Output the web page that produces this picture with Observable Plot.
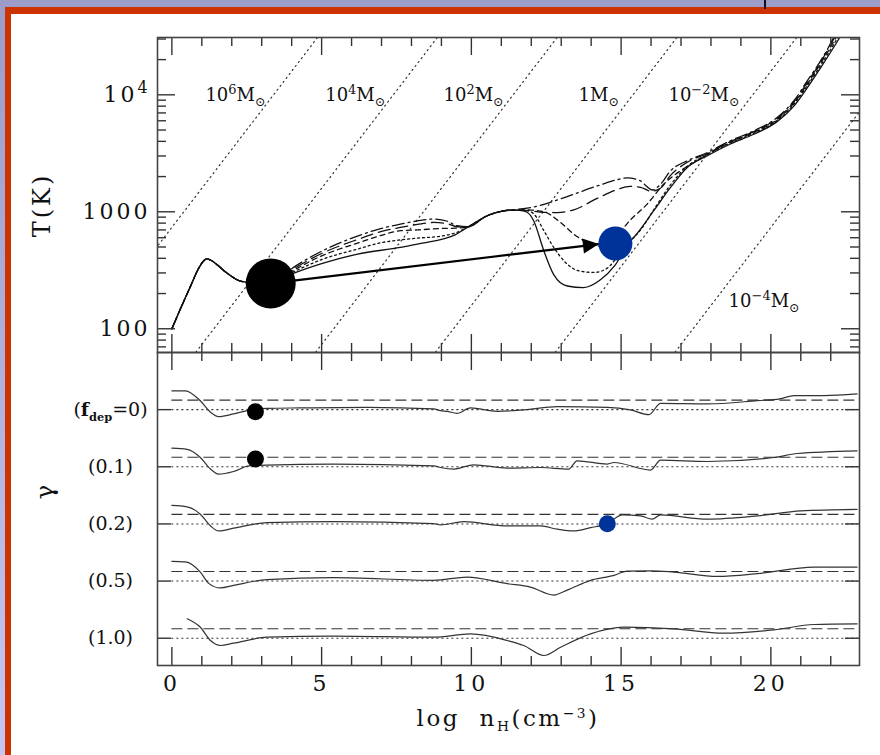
<!DOCTYPE html>
<html><head><meta charset="utf-8">
<script src="https://cdn.jsdelivr.net/npm/d3@7"></script>
<script src="https://cdn.jsdelivr.net/npm/@observablehq/plot@0.6"></script>
<style>
html,body{margin:0;padding:0;}
body{width:880px;height:755px;position:relative;overflow:hidden;background:linear-gradient(#9c9cc8,#c6c6f2);font-family:"DejaVu Serif",serif;color:#111;}
.abs{position:absolute;}
#red{left:5px;top:7px;right:0;bottom:0;background:#cc3300;}
#white{left:11px;top:14px;right:0;bottom:0;background:#fff;}
#mark{left:764px;top:0;width:2px;height:9px;background:#111;}
.lab{position:absolute;font-size:22px;white-space:nowrap;line-height:1;}
.lab sub{font-size:0.6em;vertical-align:-0.35em;}
.lab sup{font-size:0.6em;vertical-align:0.55em;}
</style></head>
<body>
<div class="abs" id="red"></div><div class="abs" id="white"></div><div class="abs" id="mark"></div>
<div class="abs" id="topPlot" style="left:0;top:0"></div>
<div class="abs" id="botPlot" style="left:0;top:352px"></div>
<div class="lab" style="left:42px;top:205px;font-size:24px;letter-spacing:3px;transform:translate(-50%,-50%) rotate(-90deg)">T(K)</div>
<div class="lab" style="left:45px;top:492px;font-size:24px;transform:translate(-50%,-50%) rotate(-90deg)">γ</div>
<div class="lab" style="left:508px;top:720px;font-size:23px;transform:translate(-50%,-50%);letter-spacing:2.5px">log&nbsp; n<sub>H</sub>(cm<sup>−3</sup>)</div>
<script>
// ---------- data ----------
const xMajor = [0, 5, 10, 15, 20];
const xMinor = [1,2,3,4,6,7,8,9,11,12,13,14,16,17,18,19,21,22];
const tMajor = [100, 1000, 10000];
const tMajorLabels = ["100", "1000", "10^4"];
const tMinor = [70,80,90,200,300,400,500,600,700,800,900,2000,3000,4000,5000,6000,7000,8000,9000,20000,30000];

const series = ["0", "0.1", "0.2", "0.5", "1.0"];
// common early evolution (log nH, T)
const tempStart = [[0,100],[0.3,151],[0.6,224],[0.9,331],[1.05,378],[1.16,395],[1.3,385],[1.5,355],[1.74,313],[2.0,280],[2.19,261],[2.52,249],[2.9,245]];
const tempF0 = [[3.3,244],[4.1,300],[5.0,360],[6.2,435],[7.63,496],[8.2,530],[9.0,580],[9.4,625],[9.86,735],[10.53,925],[11.0,1010],[11.3,1033],[11.6,1030],[11.86,990],[12.08,838],[12.42,464],[12.75,290],[13.2,232],[13.75,225],[14.31,262],[14.8,350],[15.3,560],[15.42,603],[16.09,1021],[16.65,1614],[17.21,2393],[17.88,3013],[18.65,3800],[19.43,4600],[20.21,5900],[20.77,8000],[21.22,11500],[21.66,17000],[22.1,25500],[22.4,34000]];
const tempF01 = [[3.3,244],[4.1,310],[5.0,390],[6.2,480],[7.0,545],[7.63,575],[8.2,595],[9.0,620],[9.5,665],[9.86,735],[10.53,925],[11.0,1010],[11.3,1033],[11.6,1035],[11.86,1025],[12.1,950],[12.42,690],[12.75,496],[13.2,357],[13.6,312],[14.1,303],[14.54,330],[14.9,420],[15.3,560],[15.65,700],[16.1,1050],[16.65,1700],[17.21,2450],[17.88,3080],[18.65,3880],[19.43,4700],[20.21,6050],[20.77,8300],[21.22,12000],[21.66,17800],[22.1,27000],[22.35,35000]];
const tempF02 = [[3.3,244],[4.1,320],[5.0,420],[6.2,540],[7.0,630],[7.63,689],[8.2,700],[9.0,720],[9.5,725],[9.86,740],[10.53,925],[11.0,1010],[11.3,1033],[11.8,1040],[12.42,1000],[12.98,810],[13.42,644],[13.87,547],[14.4,505],[14.8,560],[15.1,735],[15.87,1164],[16.43,1726],[16.98,2239],[17.5,2700],[17.88,3100],[18.65,3930],[19.43,4780],[20.21,6150],[20.77,8500],[21.22,12400],[21.66,18500],[22.1,28500],[22.3,35000]];
const tempF05 = [[3.3,244],[4.1,330],[5.0,440],[6.2,580],[7.0,680],[7.63,735],[8.2,780],[8.75,811],[9.2,790],[9.52,745],[9.86,740],[10.53,925],[11.0,1010],[11.3,1033],[11.8,1030],[12.42,990],[12.87,985],[13.42,1040],[14.2,1300],[14.87,1550],[15.3,1650],[15.65,1620],[16.0,1500],[16.3,1580],[16.65,2050],[17.21,2650],[17.88,3150],[18.65,3980],[19.43,4850],[20.21,6280],[20.77,8700],[21.22,12800],[21.66,19000],[22.1,30000],[22.25,35000]];
const tempF10 = [[3.3,244],[4.1,340],[5.0,460],[6.2,620],[7.0,720],[7.63,785],[8.2,835],[8.75,867],[9.2,830],[9.52,760],[9.86,745],[10.53,925],[11.0,1010],[11.3,1033],[12.08,1100],[13.2,1350],[14.31,1700],[14.87,1880],[15.2,1950],[15.65,1840],[15.85,1650],[16.04,1535],[16.3,1700],[16.65,2240],[17.21,2730],[17.88,3210],[18.65,4050],[19.43,4920],[20.21,6400],[20.77,8900],[21.22,13200],[21.66,19500],[22.1,31000],[22.2,35000]];

// Jeans-mass lines: endpoints (log nH) at T = 50 K and T = 40000 K
const jeansT = [50, 40000];
const jeansX0 = [-3.5, 0.5, 4.5, 8.5, 12.5, 16.5];
const jeansX1 = [5.2, 9.2, 13.2, 17.2, 21.2, 25.2];
const massText = ["10^6M@", "10^4M@", "10^2M@", "1M@", "10^-2M@", "10^-4M@"];
const massX = [1.12, 5.12, 9.07, 13.58, 16.58, 18.59];
const massT = [10000, 10000, 10000, 10000, 10000, 173];

const bigDot = [[3.3, 244]];
const blueDot = [[14.81, 536]];
const arrow = [[3.3, 244, 14.26, 530]];

// effective gamma
const gamF0 = [[0,1.66],[0.45,1.66],[0.95,1.31],[1.29,0.91],[1.56,0.755],[2.06,0.85],[2.51,0.965],[3.18,1.045],[4.29,1.06],[6.52,1.08],[8.74,1.025],[8.97,0.965],[9.19,0.94],[9.52,0.87],[9.97,1.06],[10.86,0.94],[11.75,0.99],[12.87,1.105],[14.54,1.08],[15.31,0.99],[15.93,0.825],[16.32,1.22],[17.88,1.2],[19.55,1.315],[20.3,1.38],[20.77,1.49],[21.77,1.49],[22.88,1.55]];
const gamF01 = [[0,1.65],[0.51,1.61],[0.95,1.325],[1.29,0.92],[1.56,0.745],[2.06,0.835],[2.57,1.03],[3.18,1.06],[5.4,1.09],[8.74,1.035],[8.97,0.975],[9.41,0.92],[10.08,1.07],[11.2,0.955],[12.31,0.975],[13.25,0.92],[13.53,1.21],[14.54,1.095],[14.76,1.15],[15.98,0.885],[16.32,1.23],[17.88,1.185],[20.1,1.325],[20.88,1.465],[22.88,1.56]];
const gamF02 = [[0,1.65],[0.51,1.6],[0.95,1.34],[1.29,0.93],[1.56,0.755],[2.06,0.85],[3.18,1.045],[5.4,1.08],[8.74,1.01],[8.97,0.965],[9.75,1.08],[11.2,0.93],[12.31,0.93],[12.87,0.815],[13.42,0.755],[13.98,0.87],[14.54,1.01],[15.04,1.315],[15.65,1.28],[16.04,1.165],[16.32,1.315],[17.88,1.165],[19.55,1.28],[21.0,1.455],[22.88,1.51]];
const gamF05 = [[0,1.69],[0.45,1.67],[0.95,1.315],[1.24,0.91],[1.62,0.76],[2.06,0.85],[3.18,1.05],[5.4,1.12],[8.74,1.025],[9.86,1.14],[11.2,0.91],[11.97,0.79],[12.75,0.51],[13.2,0.685],[13.98,1.025],[14.76,1.2],[15.2,1.35],[16.0,1.36],[16.76,1.315],[18.21,1.165],[19.55,1.26],[21.44,1.49],[22.88,1.49]];
const gamF10 = [[0.51,1.68],[0.95,1.385],[1.29,0.92],[1.62,0.745],[2.06,0.825],[3.18,1.035],[5.4,1.07],[8.74,1.035],[9.97,1.15],[11.2,0.92],[11.75,0.745],[12.42,0.395],[12.98,0.685],[13.98,1.15],[15.09,1.385],[16.76,1.33],[18.43,1.175],[20.1,1.29],[21.44,1.48],[22.88,1.5]];
const rowLabels = ["(fdep=0)", "(0.1)", "(0.2)", "(0.5)", "(1.0)"];
const gamDots = [[2.79, 0, 0.93], [2.79, 1, 1.27], [14.54, 2, 1.01]];
const gamDotColors = ["#000", "#000", "#003399"];

// ---------- build ----------
const xDomain = [-0.48, 22.96];
const W = 880, ML = 157, MR = 21;
const PW = W - ML - MR;
const TOPH = 315, BOTH = 313;
const tickCol = "#333";
const curves = [tempF0, tempF01, tempF02, tempF05, tempF10].map((c, i) => tempStart.concat(c).map(([x, T]) => ({x, T, s: series[i]})));
const dashes = [null, "2,3", "5,4", "12,6", "12,4,2,4"];

const jeans = jeansX0.flatMap((x0, i) => [{m: i, x: x0, T: jeansT[0]}, {m: i, x: jeansX1[i], T: jeansT[1]}]);

function richText(svg, map) {
  d3.select(svg).selectAll("text").each(function () {
    const parts = map[this.textContent];
    if (!parts) return;
    const sel = d3.select(this);
    sel.text(null);
    let cur = 0;
    for (const [s, shift, scale, bold] of parts) {
      const ts = sel.append("tspan").attr("dy", shift - cur).text(s);
      cur = shift;
      if (scale) ts.attr("font-size", scale + "em");
      if (bold) ts.attr("font-weight", "bold");
    }
  });
}
function spaceOut(svg, size, spacing) {
  d3.select(svg).selectAll(`g[font-size="${size}"]`).attr("letter-spacing", spacing);
}

function ticksMarks(ph, yMajor, yMinor, yMajorLen, yMinorLen) {
  const M = 18, m = 9;
  const o = {stroke: tickCol, strokeWidth: 1.4};
  return [
    Plot.tickX(xMajor, {x: d => d, insetTop: ph - M, ...o}),
    Plot.tickX(xMajor, {x: d => d, insetBottom: ph - M, ...o}),
    Plot.tickX(xMinor, {x: d => d, insetTop: ph - m, ...o}),
    Plot.tickX(xMinor, {x: d => d, insetBottom: ph - m, ...o}),
    Plot.tickY(yMajor, {y: d => d, insetRight: PW - yMajorLen, ...o}),
    Plot.tickY(yMajor, {y: d => d, insetLeft: PW - yMajorLen, ...o}),
    Plot.tickY(yMinor, {y: d => d, insetRight: PW - yMinorLen, ...o}),
    Plot.tickY(yMinor, {y: d => d, insetLeft: PW - yMinorLen, ...o})
  ];
}

const arrowHead = {draw(ctx) { ctx.moveTo(0, 0); ctx.lineTo(-16, -7.5); ctx.lineTo(-16, 7.5); ctx.closePath(); }};

const topPlot = Plot.plot({
  width: W, height: 37 + TOPH, marginLeft: ML, marginRight: MR, marginTop: 37, marginBottom: 0,
  style: "overflow: visible; background: transparent; font-family: 'DejaVu Serif', serif; color:#111;",
  x: {domain: xDomain, axis: null},
  y: {type: "log", domain: [Math.pow(10, 1.797), Math.pow(10, 4.49)], axis: null},
  marks: [
    Plot.line(jeans, {x: "x", y: "T", z: "m", stroke: "#333", strokeWidth: 1.2, strokeDasharray: "1.2,3.8", clip: true}),
    ...curves.map((c, i) => Plot.line(c, {x: "x", y: "T", stroke: "#111", strokeWidth: 1.3, strokeDasharray: dashes[i], curve: "monotone-x", clip: true})),
    Plot.link(arrow, {x1: d => d[0], y1: d => d[1], x2: d => d[2], y2: d => d[3], stroke: "#000", strokeWidth: 2.2}),
    Plot.dot(arrow, {x: d => d[2], y: d => d[3], symbol: arrowHead, fill: "#000", stroke: "none", rotate: -6.85}),
    Plot.dot(bigDot, {x: d => d[0], y: d => d[1], r: 25, fill: "#000"}),
    Plot.dot(blueDot, {x: d => d[0], y: d => d[1], r: 17, fill: "#003399"}),
    Plot.text(massText, {x: (d, i) => massX[i], y: (d, i) => massT[i], text: d => d, textAnchor: "start", fontSize: 18, fill: "#111"}),
    Plot.text(tMajor, {y: d => d, text: (d, i) => tMajorLabels[i], frameAnchor: "left", dx: -7, textAnchor: "end", fontSize: 22, fill: "#111"}),
    ...ticksMarks(TOPH, tMajor, tMinor, 18, 9),
    Plot.frame({stroke: "#444", strokeWidth: 1.6})
  ]
});
richText(topPlot, {
  "10^4": [["10", 0], ["4", -9, 0.72]],
  "10^6M@": [["10", 0], ["6", -7, 0.72], ["M", 0], ["⊙", 5, 0.7]],
  "10^4M@": [["10", 0], ["4", -7, 0.72], ["M", 0], ["⊙", 5, 0.7]],
  "10^2M@": [["10", 0], ["2", -7, 0.72], ["M", 0], ["⊙", 5, 0.7]],
  "1M@": [["1M", 0], ["⊙", 5, 0.7]],
  "10^-2M@": [["10", 0], ["−2", -7, 0.72], ["M", 0], ["⊙", 5, 0.7]],
  "10^-4M@": [["10", 0], ["−4", -7, 0.72], ["M", 0], ["⊙", 5, 0.7]]
});
spaceOut(topPlot, 22, 3);
document.getElementById("topPlot").append(topPlot);

// bottom panel
const gams = [gamF0, gamF01, gamF02, gamF05, gamF10];
const off = r => 2 * (4 - r);
const gamData = gams.flatMap((g, r) => g.map(([x, v]) => ({x, v: v + off(r), r})));
const rows = series.map((s, r) => r);
const rowTicks = rows.map(r => 1 + off(r));

const botPlot = Plot.plot({
  width: W, height: BOTH + 90, marginLeft: ML, marginRight: MR, marginTop: 0, marginBottom: 90,
  style: "overflow: visible; background: transparent; font-family: 'DejaVu Serif', serif; color:#111;",
  x: {domain: xDomain, axis: null},
  y: {domain: [0.045, 11], axis: null},
  marks: [
    Plot.ruleY(rows, {y: r => 1 + off(r), x1: () => 0, x2: () => 22.9, stroke: "#333", strokeWidth: 1.1, strokeDasharray: "2,3"}),
    Plot.ruleY(rows, {y: r => 4 / 3 + off(r), x1: () => 0, x2: () => 22.9, stroke: "#333", strokeWidth: 1.1, strokeDasharray: "11,5"}),
    Plot.line(gamData, {x: "x", y: "v", z: "r", stroke: "#333", strokeWidth: 1.2, curve: "monotone-x"}),
    Plot.dot(gamDots, {x: d => d[0], y: d => d[2] + off(d[1]), r: 8.5, fill: (d, i) => gamDotColors[i]}),
    Plot.text(rowLabels, {y: (d, r) => 1 + off(r), text: d => d, frameAnchor: "left", dx: -47, textAnchor: "middle", fontSize: 19, fill: "#111"}),
    Plot.text(xMajor, {x: d => d, text: d => String(d), frameAnchor: "bottom", dy: 25, fontSize: 22, fill: "#111"}),
    ...ticksMarks(BOTH, rowTicks, [], 14, 0),
    Plot.frame({stroke: "#444", strokeWidth: 1.6})
  ]
});
richText(botPlot, {
  "(fdep=0)": [["(", 0], ["f", 0, null, true], ["dep", 5, 0.6, true], ["=0)", 0]]
});
spaceOut(botPlot, 22, 4);
document.getElementById("botPlot").append(botPlot);
</script>
</body></html>
